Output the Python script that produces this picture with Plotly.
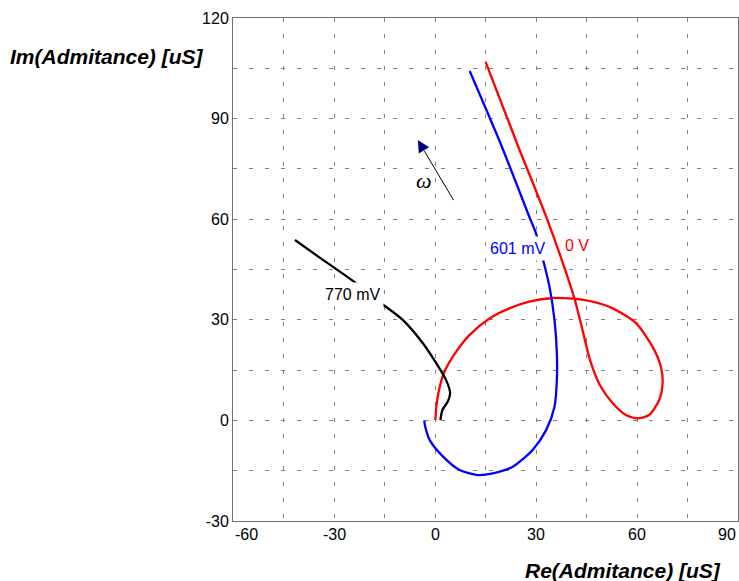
import plotly.graph_objects as go

# ---- data ----
red_label = "0 V"
red_x = [15.0, 24.4, 33.3, 41.4, 43.8, 46.2, 49.0, 52.8, 56.7, 60.2, 63.6,
         66.6, 67.6, 67.1, 64.6, 59.7, 52.8, 46.8, 40.9, 35.0, 28.0, 22.1, 16.2, 10.3,
         6.3, 2.8, 1.2, 0.4, 0.1]
red_y = [107.0, 82.5, 60.0, 36.4, 27.0, 17.5, 10.5, 5.1, 1.6, 0.6, 1.6,
         6.1, 11.1, 16.0, 22.0, 29.0, 33.4, 35.4, 36.3, 36.5, 35.4, 33.4, 30.4, 25.5,
         20.5, 14.5, 9.1, 4.1, 0.1]

blue_label = "601 mV"
blue_x = [10.3, 19.5, 28.3, 30.0, 31.0, 32.0, 34.0, 35.5, 36.2, 36.2, 35.5, 33.0,
          29.0, 23.1, 17.2, 12.7, 7.3, 2.4, -1.6, -2.9, -3.2]
blue_y = [104.2, 82.5, 60.0, 55.8, 52.0, 48.3, 39.9, 29.9, 20.0, 12.1, 4.1, -2.9,
          -8.8, -13.8, -15.8, -16.3, -14.8, -10.8, -5.8, -1.9, 0.0]

black_label = "770 mV"
black_x = [-41.6, -33.2, -24.8, -20.3, -15.9, -9.5, -3.6, 0.4, 3.3, 4.5, 3.8, 2.2, 1.6]
black_y = [53.8, 47.8, 41.9, 38.4, 34.9, 29.9, 23.0, 17.0, 12.0, 8.1, 5.6, 3.1, 0.1]

# label anchor points (data coords)
red_label_pos = [42.3, 52.3]
blue_label_pos = [24.5, 51.4]
black_label_pos = [-24.6, 37.5]

# frequency arrow
arrow_tail = [5.5, 65.7]
arrow_tip = [-5.1, 83.6]
omega_pos = [-3.2, 71.5]

x_ticks = [-60, -30, 0, 30, 60, 90]
x_ticktext = ["-60", "-30", "0", "30", "60", "90"]
y_ticks = [-30, 0, 30, 60, 90, 120]
y_ticktext = ["-30", "0", "30", "60", "90", "120"]

x_title = "Re(Admitance) [uS]"
y_title = "Im(Admitance) [uS]"

FONT = "Liberation Sans, Arial, sans-serif"
LW = 2.3

fig = go.Figure()
fig.add_trace(go.Scatter(x=red_x, y=red_y, mode="lines", line=dict(color="#ff0000", width=LW, shape="spline", smoothing=0.7), showlegend=False))
fig.add_trace(go.Scatter(x=blue_x, y=blue_y, mode="lines", line=dict(color="#0000ff", width=LW, shape="spline", smoothing=0.7), showlegend=False))
fig.add_trace(go.Scatter(x=black_x, y=black_y, mode="lines", line=dict(color="#000000", width=LW, shape="spline", smoothing=0.7), showlegend=False))

anns = []
# curve labels
anns.append(dict(x=red_label_pos[0], y=red_label_pos[1], xref="x", yref="y", text=red_label,
                 showarrow=False, font=dict(family=FONT, size=16, color="#ff0000")))
anns.append(dict(x=blue_label_pos[0], y=blue_label_pos[1], xref="x", yref="y", text=blue_label,
                 showarrow=False, bgcolor="white", borderpad=3, font=dict(family=FONT, size=16, color="#0000ff")))
anns.append(dict(x=black_label_pos[0], y=black_label_pos[1], xref="x", yref="y", text=black_label,
                 showarrow=False, bgcolor="white", borderpad=3, font=dict(family=FONT, size=16, color="#000000")))
# omega
anns.append(dict(x=omega_pos[0], y=omega_pos[1], xref="x", yref="y", text="<i>ω</i>",
                 showarrow=False, font=dict(family="Liberation Serif, Times New Roman, serif", size=22, color="#000000")))
# arrow head (navy)
head_base = [arrow_tip[0] + 0.18 * (arrow_tail[0] - arrow_tip[0]),
             arrow_tip[1] + 0.18 * (arrow_tail[1] - arrow_tip[1])]
anns.append(dict(x=arrow_tip[0], y=arrow_tip[1], xref="x", yref="y",
                 ax=head_base[0], ay=head_base[1], axref="x", ayref="y", text="",
                 showarrow=True, arrowhead=2, arrowsize=2.4, arrowwidth=1, arrowcolor="#000080"))
# x tick labels
for i, (v, t) in enumerate(zip(x_ticks, x_ticktext)):
    anchor = "left" if i == 0 else ("right" if i == len(x_ticks) - 1 else "center")
    anns.append(dict(x=v, y=0, xref="x", yref="paper", text=t, showarrow=False,
                     xanchor=anchor, yanchor="top", yshift=-3,
                     font=dict(family=FONT, size=16, color="#000000")))
# axis titles
anns.append(dict(x=-0.249, y=0.9225, xref="paper", yref="paper", text="<b><i>" + y_title + "</i></b>",
                 showarrow=False, xanchor="center", yanchor="middle",
                 font=dict(family=FONT, size=21, color="#000000")))
anns.append(dict(x=0.7727, y=-0.0994, xref="paper", yref="paper", text="<b><i>" + x_title + "</i></b>",
                 showarrow=False, xanchor="center", yanchor="middle",
                 font=dict(family=FONT, size=21, color="#000000")))

fig.add_shape(type="line", xref="x", yref="y", x0=arrow_tail[0], y0=arrow_tail[1],
              x1=head_base[0], y1=head_base[1], line=dict(color="#000000", width=1))

grid = dict(showgrid=True, gridcolor="#808080", gridwidth=1, griddash="4px,12px")
fig.update_xaxes(range=[-60, 90], tickvals=x_ticks, showticklabels=False, ticks="",
                 showline=True, linecolor="#707070", linewidth=1, mirror=True, zeroline=False,
                 minor=dict(dtick=15, tick0=0, showgrid=True, gridcolor="#808080", gridwidth=1, griddash="4px,12px"),
                 **grid)
fig.update_yaxes(range=[-30, 120], tickvals=y_ticks, ticktext=y_ticktext, ticks="",
                 tickfont=dict(family=FONT, size=16, color="#000000"),
                 showline=True, linecolor="#707070", linewidth=1, mirror=True, zeroline=False,
                 minor=dict(dtick=15, tick0=0, showgrid=True, gridcolor="#808080", gridwidth=1, griddash="4px,12px"),
                 **grid)

fig.update_layout(width=739, height=581, margin=dict(l=233, r=1, t=18, b=60),
                  paper_bgcolor="white", plot_bgcolor="white", annotations=anns,
                  font=dict(family=FONT, size=16, color="#000000"))

fig.write_html("out.html")
